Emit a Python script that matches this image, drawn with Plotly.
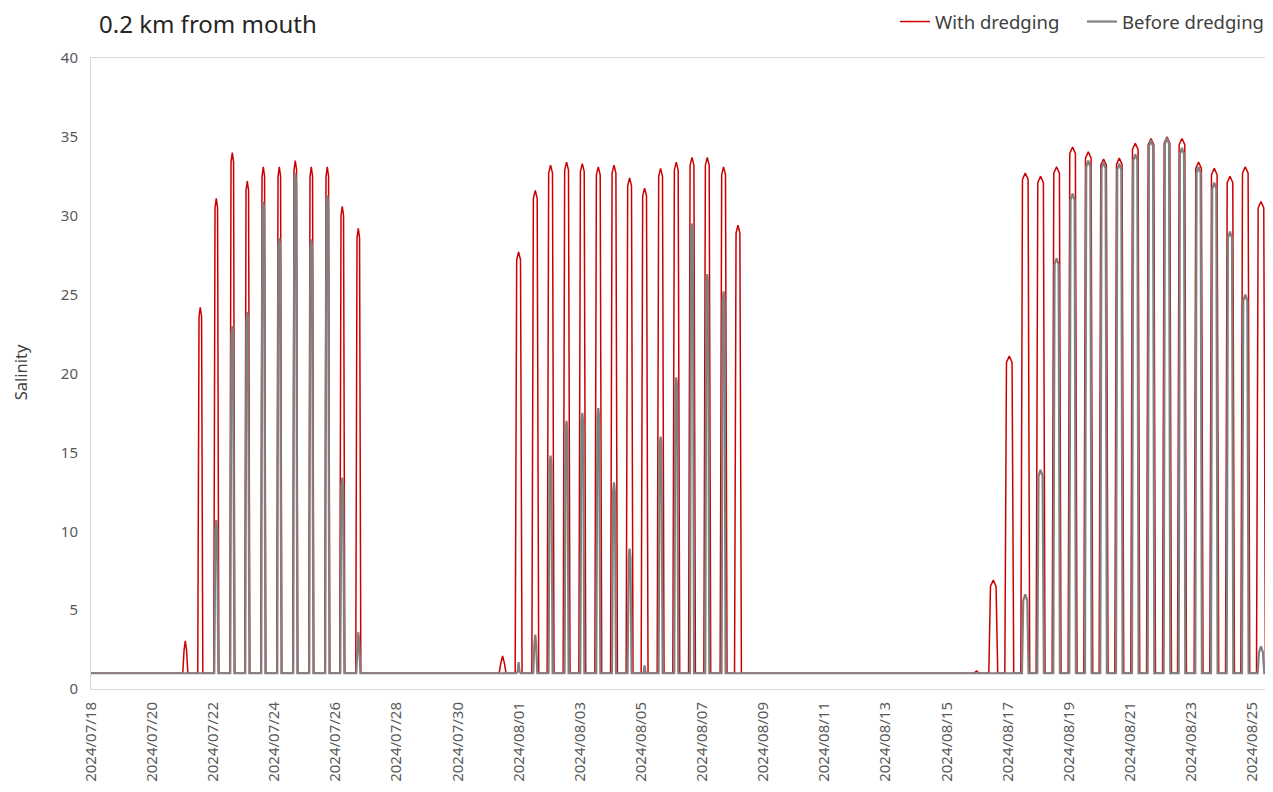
import plotly.graph_objects as go
import pandas as pd

# ---------------- data ----------------
baseline = 1.0
x_start = "2024-07-18 00:00"
x_end = "2024-08-25 15:30"

red_peak_times = [
    "2024-07-21 02:04", "2024-07-21 13:50", "2024-07-22 02:24", "2024-07-22 14:58",
    "2024-07-23 02:45", "2024-07-23 15:19", "2024-07-24 03:53", "2024-07-24 16:26",
    "2024-07-25 05:00", "2024-07-25 17:34", "2024-07-26 05:21", "2024-07-26 17:55",
    "2024-07-31 11:15", "2024-07-31 23:49", "2024-08-01 12:55", "2024-08-02 00:56",
    "2024-08-02 13:30", "2024-08-03 01:51", "2024-08-03 14:24", "2024-08-04 02:44",
    "2024-08-04 14:59", "2024-08-05 02:46", "2024-08-05 15:20", "2024-08-06 03:39",
    "2024-08-06 15:59", "2024-08-07 04:00", "2024-08-07 16:48", "2024-08-08 04:06",
    "2024-08-15 23:30", "2024-08-16 12:36", "2024-08-17 01:10", "2024-08-17 13:44",
    "2024-08-18 01:45", "2024-08-18 14:20", "2024-08-19 02:53", "2024-08-19 15:13",
    "2024-08-20 03:14", "2024-08-20 15:34", "2024-08-21 04:08", "2024-08-21 16:28",
    "2024-08-22 05:02", "2024-08-22 16:48", "2024-08-23 05:51", "2024-08-23 18:10",
    "2024-08-24 06:30", "2024-08-24 18:32", "2024-08-25 06:50",
]
red_peak_values = [
    3.05, 24.2, 31.1, 34.0, 32.2, 33.1, 33.1, 33.5, 33.1, 33.1, 30.6, 29.2,
    2.1, 27.7, 31.6, 33.2, 33.4, 33.3, 33.1, 33.2, 32.4, 31.75, 33.0, 33.4,
    33.7, 33.7, 33.1, 29.4,
    1.15, 6.9, 21.1, 32.7, 32.5, 33.1, 34.35, 34.05, 33.6, 33.65, 34.6, 34.9,
    35.0, 34.9, 33.4, 33.0, 32.5, 33.1, 30.9,
]

gray_peak_times = [
    "2024-07-22 02:24", "2024-07-22 14:58", "2024-07-23 02:45", "2024-07-23 15:19",
    "2024-07-24 03:53", "2024-07-24 16:26", "2024-07-25 05:00", "2024-07-25 17:34",
    "2024-07-26 05:21", "2024-07-26 17:55",
    "2024-07-31 23:49", "2024-08-01 12:55", "2024-08-02 00:56", "2024-08-02 13:30",
    "2024-08-03 01:51", "2024-08-03 14:24", "2024-08-04 02:44", "2024-08-04 14:59",
    "2024-08-05 02:46", "2024-08-05 15:20", "2024-08-06 03:39", "2024-08-06 15:59",
    "2024-08-07 04:00", "2024-08-07 16:48",
    "2024-08-17 13:44", "2024-08-18 01:45", "2024-08-18 14:20", "2024-08-19 02:53",
    "2024-08-19 15:13", "2024-08-20 03:14", "2024-08-20 15:34", "2024-08-21 04:08",
    "2024-08-21 16:28", "2024-08-22 05:02", "2024-08-22 16:48", "2024-08-23 05:51",
    "2024-08-23 18:10", "2024-08-24 06:30", "2024-08-24 18:32", "2024-08-25 06:50",
]
gray_peak_values = [
    10.7, 23.0, 23.9, 30.9, 28.6, 32.7, 28.5, 31.3, 13.4, 3.6,
    1.7, 3.45, 14.8, 17.0, 17.5, 17.8, 13.1, 8.9, 1.5, 16.0, 19.75, 29.5, 26.3, 25.2,
    6.0, 13.9, 27.3, 31.4, 33.5, 33.4, 33.3, 33.9, 34.8, 34.95, 34.3, 33.1, 32.1,
    29.0, 25.0, 2.7,
]

# pulse shape read for the three salt-intrusion periods (hours / salinity units)
period_breaks = ["2024-07-28", "2024-08-12"]
red_rise_hours = [1.0, 1.2, 1.3]
red_half_top_hours = [1.0, 1.5, 2.2]
red_top_drop = [0.6, 0.5, 0.4]
gray_rise_hours = [0.9, 0.9, 1.0]
gray_half_top_hours = [0.7, 0.7, 1.6]
gray_top_drop = [0.6, 0.6, 0.4]

x_tick_step_days = 2


def pulse_series(times, values, rise_h, half_top_h, top_drop, end_points):
    breaks = [pd.Timestamp(b) for b in period_breaks]
    xs = [pd.Timestamp(x_start)]
    ys = [baseline]
    for t, v in zip(times, values):
        t = pd.Timestamp(t)
        k = sum(t > b for b in breaks)
        r = pd.Timedelta(hours=rise_h[k])
        h = pd.Timedelta(hours=half_top_h[k])
        shoulder = max(baseline, v - top_drop[k])
        xs += [t - h - r, t - h, t, t + h, t + h + r]
        ys += [baseline, shoulder, v, shoulder, baseline]
    for tx, vy in end_points:
        xs.append(pd.Timestamp(tx))
        ys.append(vy)
    return xs, ys


red_x, red_y = pulse_series(
    red_peak_times, red_peak_values, red_rise_hours, red_half_top_hours, red_top_drop,
    [("2024-08-25 14:30", baseline), (x_end, 0.0)],
)
gray_x, gray_y = pulse_series(
    gray_peak_times, gray_peak_values, gray_rise_hours, gray_half_top_hours, gray_top_drop,
    [("2024-08-25 14:30", baseline)],
)

fig = go.Figure()
fig.add_trace(go.Scatter(
    x=red_x, y=red_y, mode="lines", name="With dredging",
    line=dict(color="#CC0000", width=1.5),
))
fig.add_trace(go.Scatter(
    x=gray_x, y=gray_y, mode="lines", name="Before dredging",
    line=dict(color="#808080", width=2.2),
))

W, H = 1265, 784
fig.update_layout(
    width=W, height=H,
    margin=dict(l=83, r=1, t=50, b=103, autoexpand=False),
    paper_bgcolor="white", plot_bgcolor="white",
    font=dict(family="Noto Sans", size=15, color="#595959"),
    title=dict(
        text="0.2 km from mouth", x=91 / W, xref="container", xanchor="left",
        y=1 - 17 / H, yref="container", yanchor="middle",
        font=dict(size=24, color="#262626"),
    ),
    legend=dict(
        orientation="h", x=(887 - 83) / 1181, xanchor="left",
        y=1 + (50 - 14) / 631, yanchor="middle",
        font=dict(size=18.5, color="#404040"), itemwidth=30,
        entrywidth=142, entrywidthmode="pixels",
        bgcolor="rgba(0,0,0,0)",
    ),
    showlegend=True,
)
fig.update_xaxes(
    type="date", range=[x_start, x_end], automargin=False,
    tick0=x_start, dtick=x_tick_step_days * 86400000, tickformat="%Y/%m/%d",
    tickangle=-90, ticks="outside", ticklen=6, tickcolor="rgba(0,0,0,0)",
    showline=True, linecolor="#d9d9d9", linewidth=1, mirror=True,
    showgrid=False, zeroline=False, tickfont=dict(size=15),
)
fig.update_yaxes(
    range=[0, 40], dtick=5, automargin=False,
    ticks="outside", ticklen=9, tickcolor="rgba(0,0,0,0)",
    showline=True, linecolor="#d9d9d9", linewidth=1, mirror=True,
    showgrid=False, zeroline=False, tickfont=dict(size=15),
)
fig.add_annotation(
    text="Salinity", xref="paper", yref="paper", x=(12 - 83) / 1181, y=0.502,
    textangle=-90, showarrow=False, font=dict(size=16.5, color="#404040"),
    xanchor="center", yanchor="middle",
)

fig.write_html("out.html")
